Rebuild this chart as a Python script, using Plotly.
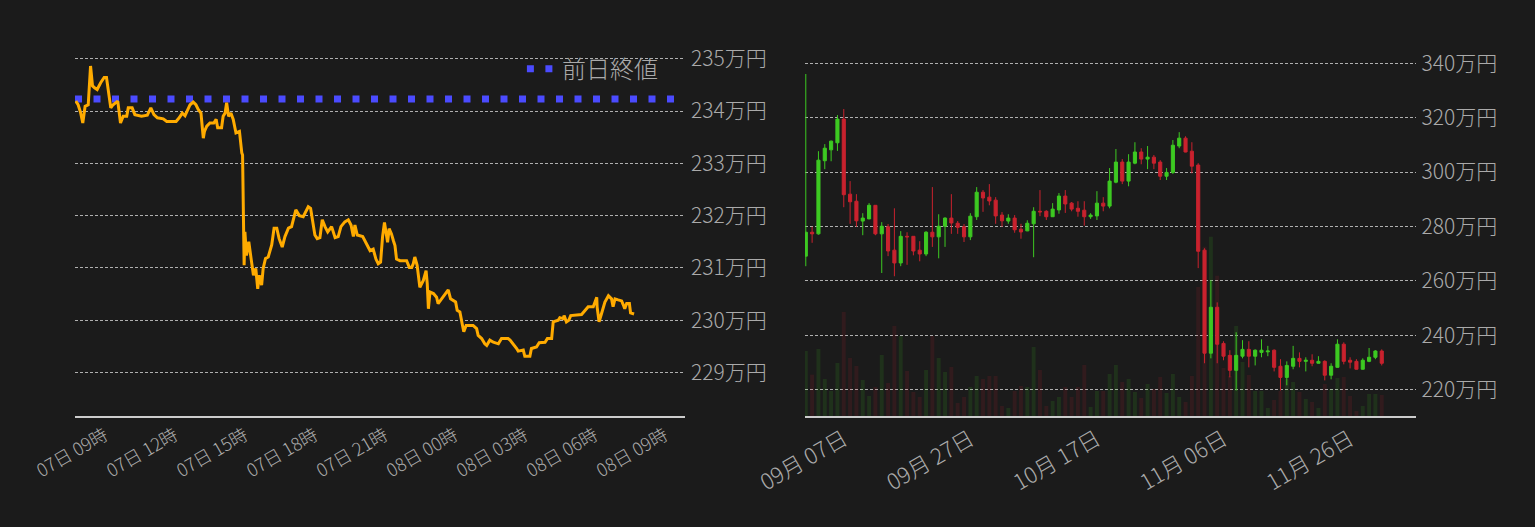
import pandas as pd
import plotly.graph_objects as go

# 直近24時間の価格 (07日 00:00 からの経過分, 万円)
line_minutes = [465, 471, 477, 483, 489, 497, 503, 508, 514, 520, 529, 538, 544, 555, 561, 573,
                580, 587, 596, 600, 610, 617, 634, 649, 658, 666, 675, 690, 699, 723, 731, 739,
                746, 752, 759, 767, 774, 780, 787, 793, 796, 802, 810, 820, 826, 830, 840, 844,
                849, 853, 858, 864, 870, 877, 886, 892, 894, 898, 900, 904, 910, 917, 922, 928,
                933, 937, 943, 947, 953, 960, 969, 975, 982, 988, 996, 1003, 1012, 1020, 1031,
                1040, 1050, 1063, 1069, 1080, 1086, 1093, 1099, 1106, 1113, 1123, 1132, 1140,
                1147, 1157, 1166, 1173, 1179, 1183, 1189, 1203, 1209, 1215, 1222,
                1230, 1237, 1243, 1249, 1254, 1259, 1263, 1267, 1271, 1277, 1282, 1286, 1290,
                1299, 1316, 1323, 1329, 1333, 1337, 1343, 1350, 1359, 1366, 1369, 1372, 1376,
                1385, 1393, 1397, 1403, 1410, 1419, 1423, 1429, 1436, 1442, 1446, 1453, 1459,
                1463, 1469, 1487, 1496, 1500, 1509, 1517, 1522, 1526, 1530, 1539, 1552, 1560,
                1577, 1582, 1590, 1595, 1599, 1603, 1616, 1620, 1633, 1637, 1650, 1657, 1672,
                1678, 1689, 1693, 1706, 1710, 1719, 1721, 1727, 1733, 1738, 1766, 1775, 1783,
                1796, 1805, 1806, 1811, 1817, 1826, 1835, 1843, 1847, 1852, 1860, 1869, 1873,
                1877, 1882, 1889, 1892, 1901]
line_price = [234.19, 234.12, 233.98, 233.77, 234.09, 234.12, 234.86, 234.48, 234.44, 234.41,
              234.54, 234.64, 234.64, 234.06, 234.12, 234.19, 233.77, 233.90, 233.90, 234.06,
              234.06, 233.93, 233.90, 233.92, 234.06, 233.93, 233.87, 233.85, 233.80, 233.80,
              233.87, 233.96, 233.91, 234.00, 234.12, 234.17, 234.12, 234.03, 233.96, 233.48,
              233.61, 233.71, 233.77, 233.77, 233.84, 233.68, 233.68, 233.90, 233.96, 234.16,
              233.90, 233.96, 233.84, 233.58, 233.61, 233.20, 233.16, 231.05, 231.69, 231.24,
              231.50, 231.12, 230.86, 230.99, 230.60, 230.86, 230.67, 230.99, 231.18, 231.21,
              231.44, 231.76, 231.76, 231.56, 231.40, 231.60, 231.76, 231.79, 232.11, 232.00,
              231.98, 232.17, 232.14, 231.63, 231.56, 231.58, 231.92, 231.79, 231.69, 231.79,
              231.58, 231.60, 231.79, 231.88, 231.92, 231.82, 231.60, 231.82, 231.63, 231.60,
              231.50, 231.43, 231.33,
              231.36, 231.17, 231.08, 231.11, 231.59, 231.87, 231.62, 231.49, 231.75, 231.65,
              231.52, 231.43, 231.17, 231.14, 231.14, 231.01, 231.01, 231.08, 231.21, 231.05,
              230.63, 230.76, 230.95, 230.70, 230.22, 230.54, 230.51, 230.44, 230.32, 230.38,
              230.47, 230.54, 230.58, 230.41, 230.38, 230.35, 230.19, 230.16, 229.93, 229.78,
              229.90, 229.90, 229.84, 229.71, 229.65, 229.55, 229.52, 229.58, 229.62, 229.58,
              229.55, 229.65, 229.65, 229.62, 229.55, 229.49, 229.46, 229.41, 229.43, 229.31,
              229.31, 229.46, 229.49, 229.57, 229.58, 229.65, 229.65, 229.97, 230.00, 230.05,
              230.03, 230.09, 229.97, 230.00, 230.09, 230.11, 230.19, 230.26, 230.26, 230.44,
              230.25, 229.97, 230.12, 230.35, 230.47, 230.41, 230.26, 230.41, 230.39, 230.37,
              230.30, 230.22, 230.32, 230.32, 230.14, 230.12]
prev_close = 234.23

# 日足 (09月01日から, 万円)
candle_start = '2022-09-01'
candle_open = [269.1, 277.9, 277.3, 304.2, 308.2, 310.8, 319.5, 291.9, 289.3, 282.0, 282.8, 287.8,
               277.3, 279.9, 271.3, 266.6, 276.4, 276.4, 271.3, 269.9, 277.9, 276.2, 280.1, 283.1,
               281.2, 279.9, 276.2, 283.6, 292.6, 290.8, 289.7, 284.2, 282.0, 283.1, 279.0, 278.4,
               281.0, 285.6, 285.6, 283.6, 286.1, 291.2, 288.6, 286.7, 286.0, 283.6, 283.9, 288.6,
               287.5, 296.3, 303.7, 296.7, 303.3, 307.4, 304.8, 305.5, 303.7, 298.5, 299.9, 309.6,
               312.5, 307.7, 302.6, 271.3, 233.4, 250.3, 237.0, 232.6, 227.1, 232.3, 234.8, 232.3,
               233.7, 233.9, 234.5, 228.6, 224.5, 228.6, 231.5, 230.4, 230.8, 229.7, 230.4, 225.3,
               228.2, 236.7, 230.8, 230.4, 227.5, 230.4, 231.9, 234.2]
candle_high = [336.1, 279.9, 307.7, 310.3, 311.6, 321.0, 323.2, 296.7, 291.9, 284.9, 288.6, 287.9,
               281.6, 280.9, 286.7, 278.3, 277.9, 276.5, 274.6, 278.3, 294.5, 284.5, 283.4, 291.9,
               282.0, 280.9, 284.9, 294.5, 293.4, 295.6, 290.8, 285.3, 284.5, 284.2, 281.0, 282.3,
               287.1, 293.4, 286.0, 288.6, 292.3, 293.4, 289.0, 289.3, 289.3, 284.9, 293.0, 290.8,
               301.5, 308.5, 304.8, 306.6, 311.0, 308.8, 309.6, 306.3, 304.4, 301.5, 311.8, 314.7,
               313.2, 311.0, 303.3, 272.0, 260.2, 252.1, 237.8, 234.5, 241.1, 238.2, 237.8, 234.8,
               238.5, 236.1, 234.8, 231.2, 230.4, 236.1, 233.7, 231.9, 233.0, 232.3, 230.8, 229.7,
               238.5, 237.4, 231.9, 231.2, 231.5, 235.3, 234.5, 234.8]
candle_low = [265.4, 274.0, 277.0, 301.1, 304.0, 307.8, 287.1, 281.0, 279.9, 276.8, 282.7, 276.8,
              262.9, 269.1, 261.7, 265.4, 265.9, 269.4, 267.2, 269.1, 272.5, 268.3, 272.5, 277.3,
              277.3, 274.3, 275.0, 282.4, 285.4, 287.8, 281.0, 279.9, 281.0, 277.7, 275.5, 278.3,
              268.7, 283.8, 282.4, 283.5, 284.7, 285.0, 285.6, 283.6, 280.3, 282.8, 282.4, 285.6,
              286.7, 295.9, 295.6, 294.8, 302.9, 302.9, 301.1, 301.1, 297.1, 297.1, 299.3, 308.8,
              307.3, 299.6, 264.7, 229.7, 231.5, 229.7, 230.8, 224.5, 219.7, 231.5, 228.2, 228.9,
              231.9, 232.3, 226.7, 219.7, 221.6, 227.5, 228.2, 226.7, 228.6, 229.6, 223.4, 223.8,
              228.1, 229.3, 227.8, 227.4, 227.4, 230.1, 231.2, 228.9]
candle_close = [277.9, 277.3, 304.4, 308.8, 311.4, 319.5, 291.7, 289.1, 282.1, 283.1, 287.8, 277.3,
                280.1, 271.0, 266.6, 276.4, 276.2, 271.0, 269.9, 277.9, 276.2, 280.1, 283.1, 281.3,
                279.7, 276.2, 283.8, 292.6, 290.5, 289.4, 283.9, 282.1, 283.1, 278.8, 278.0, 281.2,
                285.6, 285.4, 283.6, 286.4, 291.2, 288.3, 286.4, 285.6, 283.6, 284.2, 288.6, 287.5,
                296.7, 303.7, 296.7, 303.7, 307.4, 304.8, 305.5, 303.3, 298.5, 299.9, 309.9, 312.5,
                307.4, 302.2, 270.9, 233.4, 250.3, 236.7, 232.3, 227.1, 232.6, 234.8, 232.3, 234.5,
                234.5, 234.2, 228.2, 224.5, 228.9, 231.5, 230.4, 230.8, 229.7, 230.4, 225.3, 228.6,
                236.7, 230.4, 230.1, 227.5, 230.8, 231.9, 234.2, 229.7]
volume = [195, 124, 201, 111, 75, 159, 312, 174, 150, 108, 60, 87, 183, 99, 270, 240, 135, 72, 57,
          138, 240, 174, 132, 147, 39, 57, 87, 120, 111, 120, 120, 30, 24, 75, 90, 87, 207, 138,
          30, 45, 57, 87, 57, 87, 153, 27, 75, 75, 126, 153, 102, 111, 72, 54, 96, 81, 117, 69,
          126, 57, 42, 120, 387, 507, 537, 420, 144, 120, 270, 162, 123, 75, 75, 24, 48, 75, 110,
          102, 72, 51, 42, 24, 96, 81, 114, 117, 60, 15, 30, 66, 66, 63]

bg = '#1b1b1b'
text_color = '#aaaaaa'
up_color = '#3dc922'
down_color = '#c9222e'
font_family = 'Noto Sans CJK JP'

day0 = pd.Timestamp('2022-12-07')
line_time = [day0 + pd.Timedelta(minutes=m) for m in line_minutes]
line_range = [day0 + pd.Timedelta(minutes=463), day0 + pd.Timedelta(minutes=2032)]
candle_days = pd.date_range(candle_start, periods=len(candle_open), freq='D')
vol_colors = ['rgba(61,201,34,0.13)' if c >= o else 'rgba(201,34,46,0.13)'
              for o, c in zip(candle_open, candle_close)]

fig = go.Figure()
fig.add_trace(go.Scatter(x=line_range, y=[prev_close, prev_close], name='前日終値', mode='lines',
                         line=dict(color='#4b4bff', width=7, dash='7px,11.5px'),
                         xaxis='x', yaxis='y', hoverinfo='skip'))
fig.add_trace(go.Scatter(x=line_time, y=line_price, mode='lines', showlegend=False,
                         line=dict(color='#ffab00', width=3), xaxis='x', yaxis='y'))
fig.add_trace(go.Bar(x=candle_days, y=volume, marker=dict(color=vol_colors, line=dict(width=0)),
                     width=0.62 * 86400000, showlegend=False, xaxis='x2', yaxis='y2'))
fig.add_trace(go.Candlestick(x=candle_days, open=candle_open, high=candle_high, low=candle_low,
                             close=candle_close, showlegend=False, xaxis='x2', yaxis='y3',
                             increasing=dict(line=dict(color=up_color, width=1), fillcolor=up_color),
                             decreasing=dict(line=dict(color=down_color, width=1), fillcolor=down_color)))

grid = dict(showgrid=True, gridcolor='#b0b0b0', gridwidth=1, griddash='3px,2px', zeroline=False,
            tickfont=dict(family=font_family, size=21, color=text_color, weight=300),
            ticks='', side='right', automargin=False, ticklabelstandoff=5)
xbase = dict(type='date', showgrid=False, zeroline=False, showline=True, linecolor='#cccccc',
             linewidth=2, ticks='', tickangle=-30, automargin=False)

fig.update_layout(
    width=1535, height=527,
    paper_bgcolor=bg, plot_bgcolor=bg,
    margin=dict(l=0, r=0, t=43, b=111),
    font=dict(family=font_family, color=text_color, weight=300),
    showlegend=True,
    legend=dict(x=0.34, y=0.99, xanchor='left', yanchor='top', bgcolor='rgba(0,0,0,0)',
                font=dict(family=font_family, size=24, color=text_color, weight=300)),
    xaxis=dict(xbase, domain=[75 / 1535, 685 / 1535], range=line_range, anchor='y',
               tickformat='%d日 %H時', dtick=3 * 3600000, tick0=day0 + pd.Timedelta(hours=9),
               tickfont=dict(family=font_family, size=18, color=text_color, weight=300)),
    yaxis=dict(grid, anchor='x', range=[228.17, 235.30], dtick=1, tick0=229, ticksuffix='万円'),
    xaxis2=dict(xbase, domain=[805 / 1535, 1415.5 / 1535], anchor='y2',
                range=['2022-08-31 21:00', '2022-12-06 08:00'],
                tickformat='%m月 %d日', dtick=20 * 86400000, tick0='2022-09-07',
                tickfont=dict(family=font_family, size=22, color=text_color, weight=300),
                rangeslider=dict(visible=False)),
    yaxis2=dict(anchor='x2', range=[0, 1118], visible=False, showgrid=False),
    yaxis3=dict(grid, anchor='x2', overlaying='y2', range=[210.3, 347.5], dtick=20, tick0=220,
                ticksuffix='万円'),
)

fig.write_html("out.html", config={'displayModeBar': False},
               post_script="document.body.style.margin='0';")
